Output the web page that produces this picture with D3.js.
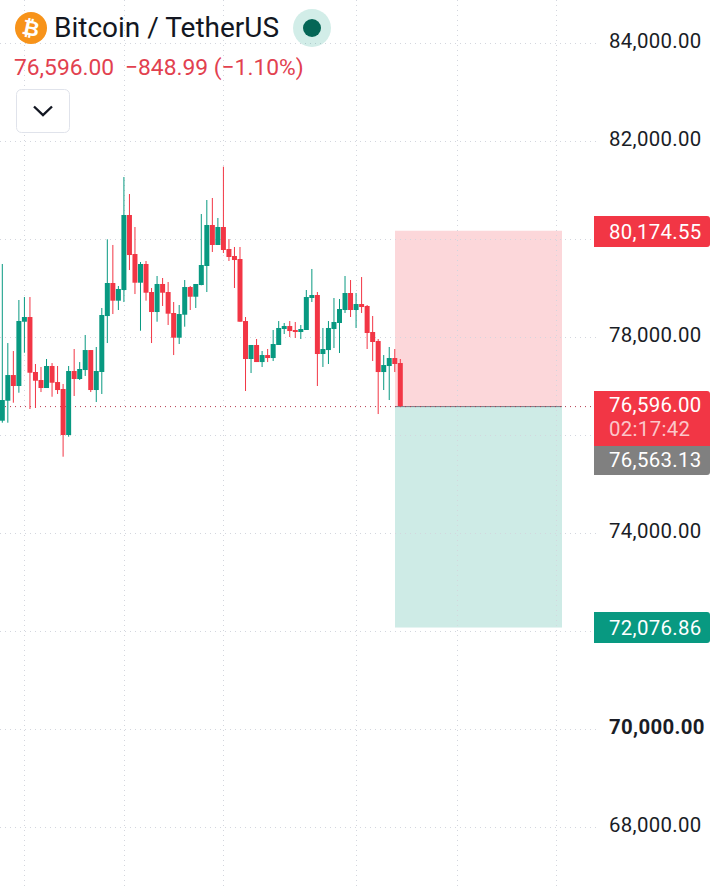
<!DOCTYPE html>
<html><head><meta charset="utf-8">
<script src="https://cdn.jsdelivr.net/npm/d3@7"></script>
<style>html,body{margin:0;background:#fff}svg{display:block}text{font-family:Roboto,sans-serif}</style>
</head><body><svg id="c" width="720" height="890"></svg>
<script>
const opens=[76298,76706,77230,77006,78318,78414,77292,77128,76965,77414,77087,76945,76006,77312,77149,77332,77740,76924,77292,78434,79108,78747,78965,80496,79700,79114,79496,78924,78516,79088,78924,78496,77992,78461,79026,78828,79067,79455,80292,79884,80251,79802,79659,79598,78332,77557,77843,77495,77638,77577,77843,78169,78230,78149,78108,78149,78802,78863,77659,77740,78169,78292,78557,78904,78557,78679,78639,78108,77924,77291,77414,77577,77475];
const highs=[79496,77883,77720,78761,78822,78822,77455,77394,77557,77475,77414,77047,77414,77761,77495,78047,77740,77802,78598,80000,79884,79047,81271,80924,80251,79537,79557,79006,79251,79210,79128,78720,78659,79169,79047,79088,80516,80802,80843,80435,81482,80006,79843,79843,78414,77843,77965,77720,77761,78149,78332,78292,78332,78312,78251,78965,79394,78924,78190,78332,78802,78781,79251,79169,78904,79230,78659,78435,77965,77638,77802,77761,77557];
const lows=[76257,76257,76665,76869,77685,76536,76557,76883,76965,76787,76843,75563,75971,76802,77128,77210,76883,76679,76843,77883,78475,78557,78720,79373,78883,78134,78747,77883,78318,78639,78251,77638,77863,78216,78557,78598,79061,78924,79741,79884,79720,79557,79006,78318,76904,77271,77495,77394,77495,77516,77843,78067,78006,77986,77965,78149,78720,77006,77394,77455,77781,77679,78496,78414,78190,78496,77761,77516,76434,76924,76720,77291,76577];
const closes=[76720,77230,77006,78333,78414,77277,77114,76965,77414,77073,76924,76006,77312,77149,77353,77740,76924,77312,78455,79108,78747,78986,80496,79679,79114,79496,78910,78516,79088,78910,78482,77992,78475,79026,78828,79088,79475,80292,79884,80251,79782,79639,79577,78318,77557,77843,77495,77638,77577,77863,78190,78230,78128,78108,78169,78822,78863,77659,77761,78190,78312,78577,78904,78557,78679,78618,78088,77904,77291,77434,77577,77455,76596];
const gridPrices=[84000,82000,80000,78000,76000,74000,72000,70000,68000];
const tickLabels=[84000,82000,78000,74000,70000,68000];
const gridDates=[4,22,40,64,82.2,100.2];
const positionTop=80174.55, entry=76596.00, positionBottom=72076.86, mark=76563.13;
const boxBars=[71.04,101.25];
const title="Bitcoin / TetherUS";
const priceLine=["76,596.00","−848.99 (−1.10%)"];
const countdown="02:17:42";

const UP="#089981",DOWN="#f23645";
const svg=d3.select("#c");
const y=d3.scaleLinear().domain([78000,80000]).range([337.3,239.3]);
const x=d3.scaleLinear().domain([0,72]).range([2.3,400.3]);
const fmt=d3.format(",.2f");
const AXF=20.4, LS=.33;

const grid=svg.append("g").attr("stroke","#d3d6de").attr("stroke-width",1).attr("stroke-dasharray","1 4");
grid.selectAll(".h").data(gridPrices).join("line").attr("x1",0).attr("x2",600).attr("y1",d=>Math.round(y(d))+.5).attr("y2",d=>Math.round(y(d))+.5);

const bx0=x(boxBars[0]),bx1=x(boxBars[1]);
svg.append("rect").attr("x",bx0).attr("width",bx1-bx0).attr("y",y(positionTop)).attr("height",y(entry)-y(positionTop)).attr("fill","#f23645").attr("opacity",.2);
svg.append("rect").attr("x",bx0).attr("width",bx1-bx0).attr("y",y(entry)).attr("height",y(positionBottom)-y(entry)).attr("fill","#089981").attr("opacity",.2);
grid.raise();
const vg=svg.append("g").attr("stroke","#d3d6de").attr("stroke-width",1).attr("stroke-dasharray","1 4");
vg.selectAll("line").data(gridDates).join("line").attr("y1",0).attr("y2",890).attr("x1",d=>Math.round(x(d))+.5).attr("x2",d=>Math.round(x(d))+.5);
svg.append("line").attr("x1",bx0).attr("x2",bx1).attr("y1",y(entry)+.5).attr("y2",y(entry)+.5).attr("stroke","#787b86").attr("stroke-width",1);
svg.append("line").attr("x1",0).attr("x2",594).attr("y1",y(entry)+.5).attr("y2",y(entry)+.5).attr("stroke","#b8384a").attr("stroke-width",1).attr("stroke-dasharray","1 4");

const idx=d3.range(opens.length);
const col=i=>closes[i]>=opens[i]?UP:DOWN;
svg.append("g").selectAll("line").data(idx).join("line")
 .attr("x1",i=>x(i)).attr("x2",i=>x(i)).attr("y1",i=>y(highs[i])).attr("y2",i=>y(lows[i])).attr("stroke",col).attr("stroke-width",1);
svg.append("g").selectAll("rect").data(idx).join("rect")
 .attr("x",i=>x(i)-2.5).attr("width",5).attr("y",i=>y(Math.max(opens[i],closes[i]))).attr("height",i=>Math.max(1.5,Math.abs(y(opens[i])-y(closes[i])))).attr("fill",col);

svg.append("g").selectAll("text").data(tickLabels).join("text").attr("x",609).attr("y",d=>y(d)+4.6).attr("font-size",AXF).attr("letter-spacing",LS).attr("fill","#1a1d26").attr("font-weight",d=>d===70000?700:400).text(fmt);

function tag(v,fill,top,h){
 svg.append("path").attr("d",`M594,${top}H707a3,3 0 0 1 3,3V${top+h-3}a3,3 0 0 1 -3,3H594Z`).attr("fill",fill);
 svg.append("text").attr("x",609).attr("y",top+h/2+7).attr("font-size",AXF).attr("letter-spacing",LS).attr("fill","#fff").text(fmt(v));
}
tag(positionTop,DOWN,216,31);
tag(positionBottom,UP,612,31);
svg.append("path").attr("d","M594,446H710V472a3,3 0 0 1 -3,3H594Z").attr("fill","#808080");
svg.append("text").attr("x",609).attr("y",467).attr("font-size",AXF).attr("letter-spacing",LS).attr("fill","#fff").text(fmt(mark));
svg.append("path").attr("d","M594,391H707a3,3 0 0 1 3,3V446H594Z").attr("fill",DOWN);
svg.append("text").attr("x",609).attr("y",412).attr("font-size",AXF).attr("letter-spacing",LS).attr("fill","#fff").text(fmt(entry));
svg.append("text").attr("x",609).attr("y",436).attr("font-size",AXF).attr("letter-spacing",LS).attr("fill","#fff").attr("fill-opacity",.72).text(countdown);

svg.append("circle").attr("cx",31).attr("cy",28).attr("r",16).attr("fill","#f7931a");
svg.append("text").attr("x",31).attr("y",35.5).attr("text-anchor","middle").attr("font-size",21).attr("font-weight",700).attr("fill","#fff").attr("transform","rotate(12 31 28)").text("₿");
svg.append("text").attr("x",54).attr("y",37).attr("font-size",28).attr("fill","#131722").text(title);
svg.append("circle").attr("cx",312).attr("cy",28).attr("r",19).attr("fill","#089981").attr("opacity",.18);
svg.append("circle").attr("cx",312).attr("cy",28).attr("r",9).attr("fill","#056656");
svg.append("text").attr("x",14).attr("y",75).attr("font-size",22.8).attr("fill","#e2414f").text(priceLine[0]);
svg.append("text").attr("x",125).attr("y",75).attr("font-size",22.8).attr("fill","#e2414f").text(priceLine[1]);
svg.append("rect").attr("x",16.5).attr("y",89.5).attr("width",53).attr("height",43).attr("rx",5).attr("fill","#fff").attr("stroke","#e0e3eb");
svg.append("path").attr("d","M34,106.5L43,115L52,106.5").attr("fill","none").attr("stroke","#131722").attr("stroke-width",2.4);
</script></body></html>
